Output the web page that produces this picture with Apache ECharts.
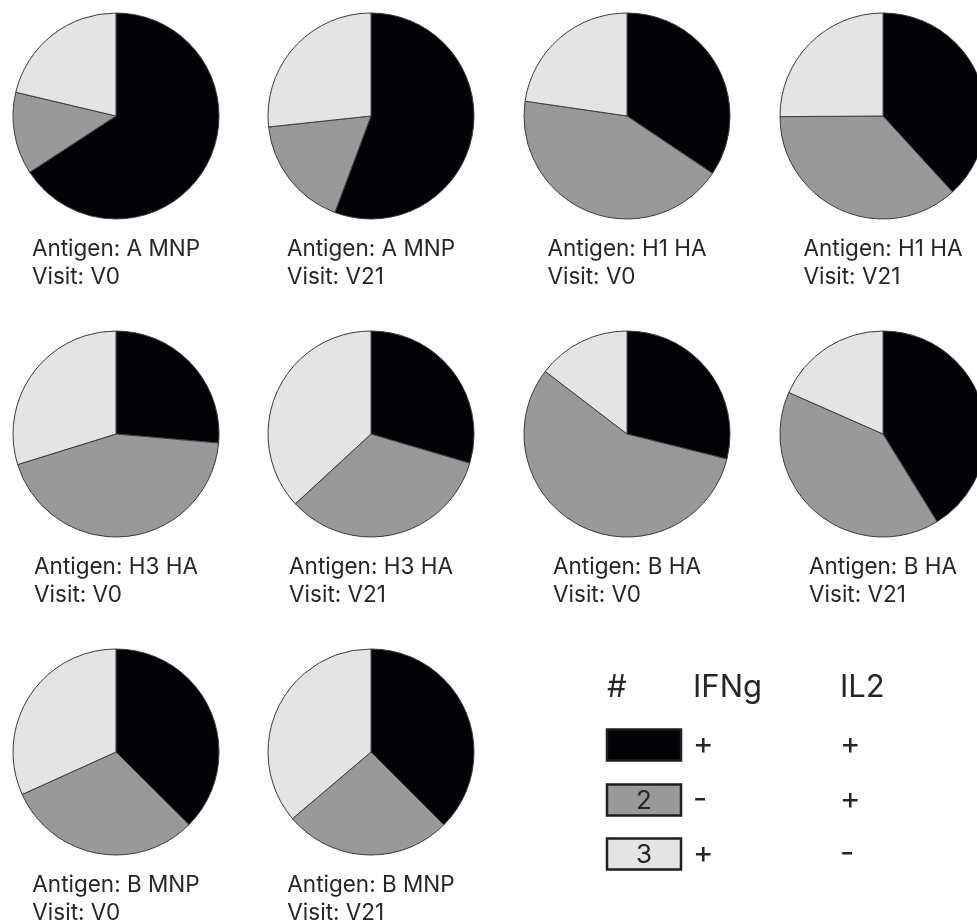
<!DOCTYPE html>
<html>
<head>
<meta charset="utf-8">
<script src="https://cdn.jsdelivr.net/npm/echarts@6/dist/echarts.min.js"></script>
<style>
  html, body { margin: 0; padding: 0; background: #ffffff; }
  #chart { width: 977px; height: 920px; }
</style>
</head>
<body>
<div id="chart"></div>
<script>
// Cytokine profile of responding T cells, one pie per antigen and visit.
const antigens = ['A MNP', 'A MNP', 'H1 HA', 'H1 HA', 'H3 HA', 'H3 HA', 'B HA', 'B HA', 'B MNP', 'B MNP'];
const visits   = ['V0', 'V21', 'V0', 'V21', 'V0', 'V21', 'V0', 'V21', 'V0', 'V21'];

// Share (%) of each cytokine combination
const ifngPosIl2Pos = [65.8, 55.7, 34.4, 38.2, 26.4, 29.6, 28.9, 41.2, 37.5, 37.5]; // #1
const ifngNegIl2Pos = [12.9, 17.6, 42.9, 36.7, 43.8, 33.6, 56.5, 40.4, 30.8, 26.3]; // #2
const ifngPosIl2Neg = [21.3, 26.7, 22.7, 25.1, 29.8, 36.9, 14.6, 18.4, 31.8, 36.2]; // #3

// Legend table
const legendHeader = ['#', 'IFNg', 'IL2'];
const legendIds    = ['', '2', '3'];
const legendIfng   = ['+', '-', '+'];
const legendIl2    = ['+', '+', '-'];

const sliceColors = ['#030307', '#999999', '#e4e4e4'];
const textColor = '#262626';
const fontFamily = 'Inter, "Noto Sans", sans-serif';

// Grid layout of the pies
const colX = [116, 371, 627, 883];
const rowY = [116, 434, 752];
const radius = 103;
const labelSize = 22.5;

const measureCtx = document.createElement('canvas').getContext('2d');
function textWidth(str, size) {
  measureCtx.font = size + 'px ' + fontFamily;
  return measureCtx.measureText(str).width;
}

const series = [];
const graphics = [];

antigens.forEach((ag, i) => {
  const cx = colX[i % 4];
  const cy = rowY[Math.floor(i / 4)];
  series.push({
    type: 'pie',
    center: [cx, cy],
    radius: [0, radius],
    startAngle: 90,
    clockwise: true,
    silent: true,
    label: { show: false },
    labelLine: { show: false },
    emphasis: { disabled: true },
    itemStyle: { borderColor: '#3c3c3c', borderWidth: 1 },
    data: [
      { name: 'IFNg+ IL2+', value: ifngPosIl2Pos[i], itemStyle: { color: sliceColors[0] } },
      { name: 'IFNg- IL2+', value: ifngNegIl2Pos[i], itemStyle: { color: sliceColors[1] } },
      { name: 'IFNg+ IL2-', value: ifngPosIl2Neg[i], itemStyle: { color: sliceColors[2] } }
    ]
  });

  const line1 = 'Antigen: ' + ag;
  const w = textWidth(line1, labelSize);
  graphics.push({
    type: 'text',
    x: cx - w / 2,
    y: cy + 119,
    silent: true,
    style: {
      text: line1 + '\nVisit: ' + visits[i],
      fill: textColor,
      font: labelSize + 'px ' + fontFamily,
      lineHeight: 28,
      align: 'left',
      verticalAlign: 'top'
    }
  });
});

// Legend: header row plus one row per combination
const legX = { box: 607, ifng: 693, il2: 840 };
const legHeaderY = 688;
const legRowY = [745, 800, 854];
const legFont = 31;

[legX.box, legX.ifng, legX.il2].forEach((x, k) => {
  graphics.push({
    type: 'text', x: x, y: legHeaderY, silent: true,
    style: { text: legendHeader[k], fill: textColor, font: legFont + 'px ' + fontFamily, align: 'left', verticalAlign: 'middle' }
  });
});

legRowY.forEach((y, r) => {
  graphics.push({
    type: 'rect', silent: true,
    shape: { x: legX.box, y: y - 15.5, width: 74, height: 31 },
    style: { fill: sliceColors[r], stroke: '#1e1e1e', lineWidth: 2.5 }
  });
  if (legendIds[r]) {
    graphics.push({
      type: 'text', x: legX.box + 37, y: y + 1, silent: true,
      style: { text: legendIds[r], fill: textColor, font: '26px ' + fontFamily, align: 'center', verticalAlign: 'middle' }
    });
  }
  graphics.push({
    type: 'text', x: legX.ifng, y: y, silent: true,
    style: { text: legendIfng[r], fill: textColor, font: legFont + 'px ' + fontFamily, align: 'left', verticalAlign: 'middle' }
  });
  graphics.push({
    type: 'text', x: legX.il2, y: y, silent: true,
    style: { text: legendIl2[r], fill: textColor, font: legFont + 'px ' + fontFamily, align: 'left', verticalAlign: 'middle' }
  });
});

const chart = echarts.init(document.getElementById('chart'), null, { renderer: 'canvas' });
chart.setOption({
  backgroundColor: '#ffffff',
  animation: false,
  series: series,
  graphic: graphics
});
</script>
</body>
</html>
